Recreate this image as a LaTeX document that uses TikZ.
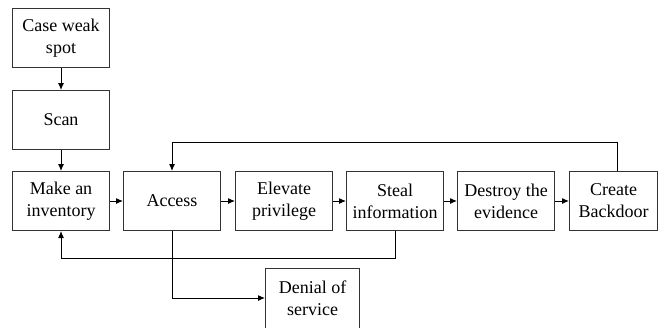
\documentclass[tikz,border=0pt]{standalone}
\usepackage{fontspec}
\setmainfont{LiberationSerif}[Extension=.ttf, UprightFont=*-Regular, BoldFont=*-Bold]
\usetikzlibrary{arrows.meta}
\begin{document}
\begin{tikzpicture}[x=1pt,y=-1pt,
  stagebox/.style={draw=black!80, line width=1pt, minimum width=97pt, minimum height=59pt,
    align=center, inner sep=0pt, font=\rmfamily\fontsize{18}{22}\selectfont, anchor=north west},
  flow/.style={line width=1pt, -{Latex[length=7pt,width=6pt]}}]
\useasboundingbox (0,0) rectangle (658,327);
\node[stagebox] (case) at (12,8) {Case weak\\spot};
\node[stagebox] (scan) at (12,90) {Scan};
\node[stagebox] (inv) at (12,171) {Make an\\inventory};
\node[stagebox] (acc) at (123,171) {Access};
\node[stagebox] (elev) at (235,171) {Elevate\\privilege};
\node[stagebox] (steal) at (346,171) {Steal\\information};
\node[stagebox] (destr) at (457,171) {Destroy the\\evidence};
\node[stagebox, minimum width=88pt] (back) at (569,171) {Create\\Backdoor};
\node[stagebox, minimum width=94pt, minimum height=60pt] (dos) at (265,268) {Denial of\\service};
\coordinate (topy) at (0,142);
\coordinate (boty) at (0,258);
\coordinate (dosy) at (0,298);
\draw[flow] (case) -- (scan);
\draw[flow] (scan) -- (inv);
\draw[flow] (inv) -- (acc);
\draw[flow] (acc) -- (elev);
\draw[flow] (elev) -- (steal);
\draw[flow] (steal) -- (destr);
\draw[flow] (destr) -- (back);
\draw[flow] (back.north -| 617,0) |- (topy -| acc.north) -- (acc.north);
\draw[flow] (steal.south) |- (boty -| inv.south) -- (inv.south);
\draw[flow] (acc.south) |- (dos.west |- dosy);
\end{tikzpicture}
\end{document}
